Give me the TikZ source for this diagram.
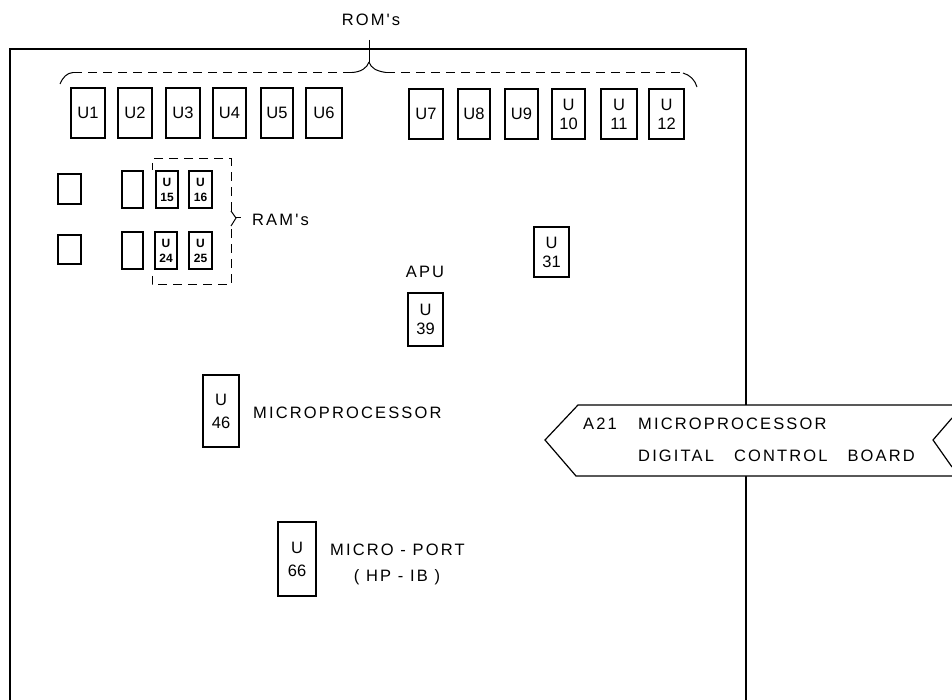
\documentclass[tikz,border=0pt]{standalone}
\usepackage{fontspec}
\setmainfont{Liberation Sans}
\newfontfamily\lblfont[LetterSpace=13]{Liberation Sans}
\tikzset{
  x=1pt,y=-1pt,
  chip/.style={draw,line width=1.1pt,inner sep=0pt,font=\fontsize{16.5}{19}\selectfont,align=center},
  ram/.style={draw,line width=1.5pt,inner sep=0pt,font=\fontsize{12}{15}\selectfont\bfseries,align=center},
  lbl/.style={inner sep=0pt,font=\fontsize{16.5}{16.5}\lblfont,anchor=west},
  clbl/.style={inner sep=0pt,font=\fontsize{16.5}{16.5}\lblfont},
  group/.style={line width=1pt,dash pattern=on 9pt off 6pt},
}
\newcommand{\chipbox}[6][chip]{\node[#1,minimum width=#4pt-#3pt,minimum height=#6pt-#5pt] (#2) at ({(#3+#4)/2},{(#5+#6)/2})}
\begin{document}
\begin{tikzpicture}
\useasboundingbox (0,0) rectangle (952,700);
\coordinate (btl) at (10,49);
\coordinate (btr) at (746,49);
\coordinate (bbl) at (10,700);
\coordinate (bbr) at (746,700);
\draw[line width=1.2pt] (bbl) -- (btl) -- (btr) -- (bbr);

\chipbox{u1}{71}{105}{88}{138} {U1};
\chipbox{u2}{118}{152}{88}{138} {U2};
\chipbox{u3}{166}{200}{88}{138} {U3};
\chipbox{u4}{213}{246}{88}{138} {U4};
\chipbox{u5}{261}{293}{88}{138} {U5};
\chipbox{u6}{306}{342}{88}{138} {U6};
\chipbox{u7}{409}{443}{89}{139} {U7};
\chipbox{u8}{458}{490}{89}{139} {U8};
\chipbox{u9}{505}{538}{89}{139} {U9};
\chipbox{u10}{552}{585}{89}{139} {U\\10};
\chipbox{u11}{601}{637}{89}{139} {U\\11};
\chipbox{u12}{649}{684}{89}{139} {U\\12};

\chipbox{a1}{58}{81}{174}{204} {};
\chipbox{a2}{58}{81}{235}{264} {};
\chipbox{b1}{122}{143}{171}{208} {};
\chipbox{b2}{122}{143}{232}{269} {};
\chipbox[ram]{u15}{156}{178}{171}{208} {U\\15};
\chipbox[ram]{u16}{189}{212}{171}{208} {U\\16};
\chipbox[ram]{u24}{155}{177}{232}{269} {U\\24};
\chipbox[ram]{u25}{189}{212}{232}{269} {U\\25};

\chipbox{u31}{534}{569}{227}{277} {U\\31};
\chipbox{u39}{408}{443}{293}{346} {U\\39};
\chipbox{u46}{203}{239}{375}{447} {U\\[4pt]46};
\chipbox{u66}{278}{316}{522}{596} {U\\[4pt]66};

% ROM brace
\coordinate (romtip) at (369,40);
\coordinate (romc) at (369,62);
\draw[group] (73,72.5) -- (352,72.5);
\draw[group] (386,72.5) -- (683,72.5);
\draw[line width=1pt] (60,84) .. controls (63,77) and (67,73) .. (73,72.5);
\draw[line width=1pt] (683,73) .. controls (690,75) and (695,80) .. (697,87);
\draw[line width=1pt] (romtip) -- (romc);
\draw[line width=1pt] (352,72.5) .. controls (361,72) and (367,68) .. (romc);
\draw[line width=1pt] (romc) .. controls (371,68) and (376,71) .. (386,72.5);
\node[clbl] (romlbl) at (371,20) {ROM's};

% RAM group
\draw[group] (231,211) -- (231,159) -- (152,159) -- (152,170);
\draw[group] (152,276) -- (152,285) -- (231,285) -- (231,226);
\coordinate (ramtip) at (241,218);
\draw[line width=1pt] (231,211) -- (236,218) -- (231,226);
\draw[line width=1pt] (236,218) -- (ramtip);
\node[lbl] (ramlbl) at (252,220) {RAM's};

\node[clbl] (apu) at (425,272) {APU};
\node[lbl] (micro) at (253,413) {MICROPROCESSOR};
\node[lbl] (port) at (330,550) {MICRO - PORT};
\node[clbl] (hpib) at (397,577) {( HP - IB )};

% Tag
\draw[line width=1.2pt,fill=white] (952,405) -- (578,405) -- (545,440) -- (576,476) -- (952,476);
\fill[white] (952,405.7) -- (952,475.3) -- (940,475.3) -- (940,405.7) -- cycle;
\draw[line width=1.2pt] (952,418) -- (933,440) -- (952,467);
\node[lbl] (a21) at (583,424) {A21};
\node[lbl] (tag1) at (638,424) {MICROPROCESSOR};
\node[lbl] (tag2) at (638,456) {DIGITAL\hspace{20pt}CONTROL\hspace{20pt}BOARD};
\end{tikzpicture}
\end{document}
